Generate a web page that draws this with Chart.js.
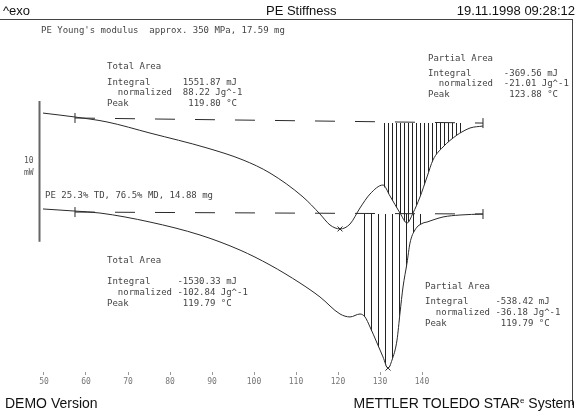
<!DOCTYPE html>
<html>
<head>
<meta charset="utf-8">
<script src="https://cdn.jsdelivr.net/npm/chart.js@4.4.1/dist/chart.umd.min.js"></script>
<style>
  html, body { margin: 0; padding: 0; background: #fff; }
  #wrap { position: relative; width: 579px; height: 415px; overflow: hidden; font-family: "Liberation Sans", Arial, sans-serif; }
  #c { position: absolute; left: 0; top: 0; }
  .frame { position: absolute; left: 0; top: 19px; width: 572px; height: 385px; border-top: 1px solid #444; border-right: 1px solid #444; }
  .hd { position: absolute; font-size: 13px; line-height: 15px; color: #111; white-space: nowrap; }
  .ft { font-size: 14px; }
  .hd sup { font-size: 8px; vertical-align: 5px; line-height: 0; }
  .ann { position: absolute; font-family: "DejaVu Sans Mono", monospace; font-size: 9px; line-height: 10.5px; color: #444; white-space: pre; }
  .ann .t { margin-bottom: 5px; }
  .sb { position: absolute; font-family: "DejaVu Sans Mono", monospace; font-size: 8px; line-height: 9px; color: #555; }
</style>
</head>
<body>
<div id="wrap">
  <canvas id="c" width="579" height="415"></canvas>
  <div class="frame"></div>

  <div class="hd" style="left:3px;top:3px">^exo</div>
  <div class="hd" style="left:266px;top:3px">PE Stiffness</div>
  <div class="hd" style="right:4px;top:3px">19.11.1998 09:28:12</div>
  <div class="hd ft" style="left:5px;top:396px">DEMO Version</div>
  <div class="hd ft" style="right:4px;top:396px">METTLER TOLEDO STAR<sup>e</sup> System</div>

  <div class="sb" style="left:24px;top:156px">10</div>
  <div class="sb" style="left:24px;top:168px">mW</div>

  <div class="ann" style="left:41px;top:25px">PE Young's modulus  approx. 350 MPa, 17.59 mg</div>
  <div class="ann" style="left:107px;top:61px"><div class="t">Total Area</div>Integral      1551.87 mJ
  normalized  88.22 Jg^-1
Peak           119.80 °C</div>
  <div class="ann" style="left:428px;top:53px"><div class="t" style="margin-bottom:4px">Partial Area</div>Integral      -369.56 mJ
  normalized  -21.01 Jg^-1
Peak           123.88 °C</div>

  <div class="ann" style="left:45px;top:190px">PE 25.3% TD, 76.5% MD, 14.88 mg</div>
  <div class="ann" style="left:107px;top:255px;line-height:11px"><div class="t" style="margin-bottom:10px">Total Area</div>Integral     -1530.33 mJ
  normalized -102.84 Jg^-1
Peak          119.79 °C</div>
  <div class="ann" style="left:425px;top:281px;line-height:11px"><div class="t" style="margin-bottom:4px">Partial Area</div>Integral     -538.42 mJ
  normalized -36.18 Jg^-1
Peak          119.79 °C</div>
</div>

<script>
// temperature axis (°C)
const tickValues = [50, 60, 70, 80, 90, 100, 110, 120, 130, 140];

// upper run: PE Young's modulus, 17.59 mg  (heat flow, mW)
const upperT  = [49.76, 57.38, 65.0, 75.24, 88.81, 97.38, 103.81, 111.67, 115.71, 118.10, 120.48, 122.86, 125.24, 127.62,
                 130.71, 132.38, 134.76, 136.43, 137.86, 139.52, 141.19, 142.62, 145.0, 148.33, 149.52, 151.43, 154.52];
const upperMW = [-6.61, -6.89, -7.24, -8.03, -9.09, -9.94, -10.87, -12.57, -13.78, -14.56, -14.84, -14.49, -13.35, -12.36,
                 -11.72, -12.50, -13.71, -14.42, -13.71, -12.57, -11.15, -9.94, -9.02, -8.17, -7.95, -7.67, -7.53];
const upperBaseT  = [57.38, 154.52];
const upperBaseMW = [-6.96, -7.32];
const upperPartial = [130.71, 149.52];

// lower run: PE 25.3% TD, 76.5% MD, 14.88 mg
const lowerT  = [49.76, 57.38, 63.33, 75.24, 87.14, 96.67, 103.81, 110.95, 115.71, 120.48, 122.86, 125.24, 126.43, 127.62,
                 129.29, 130.71, 131.90, 132.86, 134.05, 134.76, 135.48, 136.43, 137.14, 138.33, 140.24, 141.19, 142.62,
                 145.0, 149.05, 154.52];
const lowerMW = [-13.42, -13.57, -13.71, -14.35, -15.27, -16.34, -17.40, -18.68, -19.67, -20.88, -21.09, -20.88, -21.09, -21.80,
                 -22.94, -23.93, -24.72, -24.15, -22.73, -20.81, -18.96, -17.26, -15.84, -14.91, -14.42, -14.35, -14.20,
                 -13.99, -13.85, -13.78];
const lowerBaseT  = [57.38, 154.52];
const lowerBaseMW = [-13.64, -13.78];
const lowerPartial = [125.24, 141.19];

// 10 mW scale bar
const scaleBarT  = [48.93, 48.93];
const scaleBarMW = [-5.75, -15.75];

const pts = (xs, ys) => xs.map((x, i) => ({ x, y: ys[i] }));
const inRange = (xs, ys, r) => pts(xs, ys).filter(p => p.x >= r[0] && p.x <= r[1]);
const peakOf = (xs, ys) => { const i = ys.indexOf(Math.min(...ys)); return { x: xs[i], y: ys[i] }; };

function stripes(period){
  const c = document.createElement('canvas');
  c.width = period; c.height = 1;
  const g = c.getContext('2d');
  g.fillStyle = '#222';
  g.fillRect(0, 0, 1, 1);
  return g.createPattern(c, 'repeat');
}

const ink = '#2a2a2a';
const curve = (data) => ({
  data, borderColor: ink, borderWidth: 1, pointRadius: 0,
  cubicInterpolationMode: 'monotone', fill: false
});
const hatch = (data, base, period) => ({
  data, borderWidth: 0, pointRadius: 0, cubicInterpolationMode: 'monotone',
  backgroundColor: stripes(period), fill: { value: base }
});
const dashed = (data) => ({
  data, borderColor: ink, borderWidth: 1, pointRadius: 0, borderDash: [20, 20], fill: false
});

const limits = [
  { x: upperBaseT[0], y: upperBaseMW[0] }, { x: upperBaseT[1], y: upperBaseMW[1] },
  { x: lowerBaseT[0], y: lowerBaseMW[0] }, { x: lowerBaseT[1], y: lowerBaseMW[1] }
];

new Chart(document.getElementById('c'), {
  type: 'line',
  data: {
    datasets: [
      curve(pts(upperT, upperMW)),
      curve(pts(lowerT, lowerMW)),
      dashed(pts(upperBaseT, upperBaseMW)),
      dashed(pts(lowerBaseT, lowerBaseMW)),
      hatch(inRange(upperT, upperMW, upperPartial), upperBaseMW[1], 4),
      hatch(inRange(lowerT, lowerMW, lowerPartial), lowerBaseMW[1], 7),
      { data: limits, showLine: false, pointStyle: 'line', rotation: 90, pointRadius: 5,
        borderColor: ink, borderWidth: 1 },
      { data: [peakOf(upperT, upperMW), peakOf(lowerT, lowerMW)], showLine: false, pointStyle: 'crossRot',
        pointRadius: 3.5, borderColor: ink, borderWidth: 1 },
      { data: pts(scaleBarT, scaleBarMW), borderColor: '#666', borderWidth: 2, pointRadius: 0, clip: false }
    ]
  },
  options: {
    responsive: false,
    animation: false,
    devicePixelRatio: 1,
    layout: { padding: { left: 39, right: 6, top: 20, bottom: 29 } },
    plugins: { legend: { display: false }, tooltip: { enabled: false } },
    scales: {
      x: {
        type: 'linear', min: 48.81, max: 175.95,
        afterBuildTicks: s => { s.ticks = tickValues.map(v => ({ value: v })); },
        afterFit: s => { s.height = 14; },
        border: { display: false },
        grid: { drawOnChartArea: false, drawTicks: true, tickLength: 3, color: '#999' },
        ticks: { color: '#777', padding: 2, font: { family: 'DejaVu Sans Mono', size: 8 } }
      },
      y: { type: 'linear', display: false, min: -25, max: 0 }
    }
  }
});
</script>
</body>
</html>
